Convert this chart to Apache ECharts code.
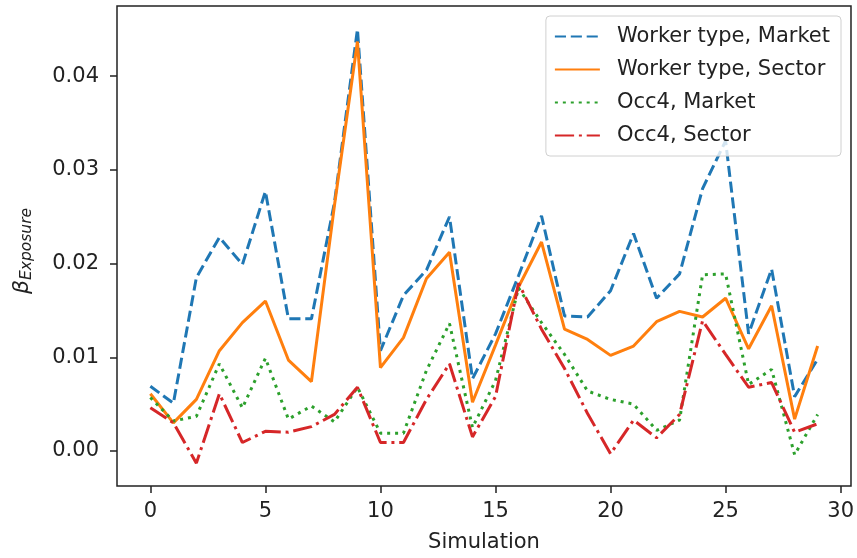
<!DOCTYPE html>
<html>
<head>
<meta charset="utf-8">
<script src="https://cdn.jsdelivr.net/npm/echarts@6/dist/echarts.min.js"></script>
<style>html,body{margin:0;padding:0;background:#fff}#c{width:857px;height:558px}</style>
</head>
<body>
<div id="c"></div>
<script>
const simulations = [0,1,2,3,4,5,6,7,8,9,10,11,12,13,14,15,16,17,18,19,20,21,22,23,24,25,26,27,28,29];
const workerMarket = [0.0069,0.0051,0.0185,0.0228,0.0199,0.0277,0.0141,0.0141,0.0265,0.0450,0.0107,0.0166,0.0193,0.0250,0.0077,0.0125,0.0187,0.0251,0.0144,0.0143,0.0171,0.0232,0.0163,0.0189,0.0280,0.0331,0.0125,0.0194,0.0058,0.0098];
const workerSector = [0.0061,0.0030,0.0055,0.0107,0.0137,0.0160,0.0097,0.0074,0.0262,0.0437,0.0089,0.0121,0.0184,0.0212,0.0052,0.0113,0.0175,0.0223,0.0130,0.0119,0.0102,0.0112,0.0138,0.0149,0.0143,0.0163,0.0109,0.0155,0.0034,0.0112];
const occMarket = [0.0057,0.0032,0.0037,0.0093,0.0046,0.0099,0.0034,0.0048,0.0031,0.0068,0.0019,0.0019,0.0086,0.0136,0.0025,0.0075,0.0174,0.0137,0.0103,0.0064,0.0055,0.0050,0.0022,0.0033,0.0188,0.0189,0.0071,0.0087,-0.0004,0.0039];
const occSector = [0.0046,0.0030,-0.0013,0.0061,0.0009,0.0021,0.0020,0.0026,0.0039,0.0068,0.0009,0.0009,0.0055,0.0093,0.0015,0.0058,0.0179,0.0130,0.0088,0.0040,-0.0003,0.0033,0.0014,0.0039,0.0139,0.0103,0.0068,0.0073,0.0020,0.0029];
const seriesNames = ['Worker type, Market','Worker type, Sector','Occ4, Market','Occ4, Sector'];
const xTicks = [0,5,10,15,20,25,30];
const yTicks = [0,0.01,0.02,0.03,0.04];

const FONT = 'DejaVu Sans';
const FS = 21;
const lw = 3;
function mk(name, vals, color, dash) {
  return {
    name: name, type: 'line', symbol: 'none', showSymbol: false,
    data: simulations.map((s, i) => [s, vals[i]]),
    lineStyle: { color: color, width: lw, type: dash, cap: 'butt' },
    itemStyle: { color: color },
    emphasis: { disabled: true }, animation: false
  };
}
const chart = echarts.init(document.getElementById('c'), null, { renderer: 'canvas' });
chart.setOption({
  backgroundColor: '#fff',
  animation: false,
  textStyle: { fontFamily: FONT },
  grid: { left: 117, right: 5, top: 6, bottom: 72, containLabel: false, show: true, borderColor: '#222', borderWidth: 1.5, backgroundColor: 'transparent' },
  legend: {
    right: 16, top: 16, orient: 'vertical',
    itemWidth: 45, itemHeight: 14, itemGap: 12,
    padding: [10, 11, 10, 8],
    backgroundColor: 'rgba(255,255,255,0.8)', borderColor: '#d0d0d0', borderWidth: 1, borderRadius: 4,
    itemStyle: { opacity: 0, borderWidth: 0 },
    textStyle: { fontFamily: FONT, fontSize: FS, color: '#222', padding: [0, 0, 0, 12] },
    data: seriesNames
  },
  xAxis: {
    type: 'value', min: -1.45, max: 30.45,
    name: 'Simulation', nameLocation: 'middle', nameGap: 46,
    nameTextStyle: { fontFamily: FONT, fontSize: FS, color: '#222' },
    axisLine: { show: false, onZero: false },
    axisTick: { show: true, inside: false, length: 7, lineStyle: { color: '#222', width: 1.5 }, customValues: xTicks },
    axisLabel: { fontFamily: FONT, fontSize: FS, color: '#222', margin: 15, customValues: xTicks },
    splitLine: { show: false }
  },
  yAxis: {
    type: 'value', min: -0.00374, max: 0.04749,
    name: '{b|β}{s|Exposure}', nameLocation: 'middle', nameGap: 82, nameRotate: 90,
    nameTextStyle: { padding: [0, 10, 0, 0], rich: {
      b: { fontFamily: FONT, fontSize: 22, fontStyle: 'italic', color: '#222' },
      s: { fontFamily: FONT, fontSize: 15.5, fontStyle: 'italic', color: '#222', padding: [10, 0, 0, 0] }
    } },
    axisLine: { show: false, onZero: false },
    axisTick: { show: true, inside: false, length: 7, lineStyle: { color: '#222', width: 1.5 }, customValues: yTicks },
    axisLabel: { fontFamily: FONT, fontSize: FS, color: '#222', margin: 18, customValues: yTicks, formatter: v => v.toFixed(2) },
    splitLine: { show: false }
  },
  series: [
    mk(seriesNames[0], workerMarket, '#1f77b4', [11.1, 4.8]),
    mk(seriesNames[1], workerSector, '#ff7f0e', 'solid'),
    mk(seriesNames[2], occMarket, '#2ca02c', [3, 4.95]),
    mk(seriesNames[3], occSector, '#d62728', [19.2, 4.8, 3, 4.8])
  ]
});
</script>
</body>
</html>
